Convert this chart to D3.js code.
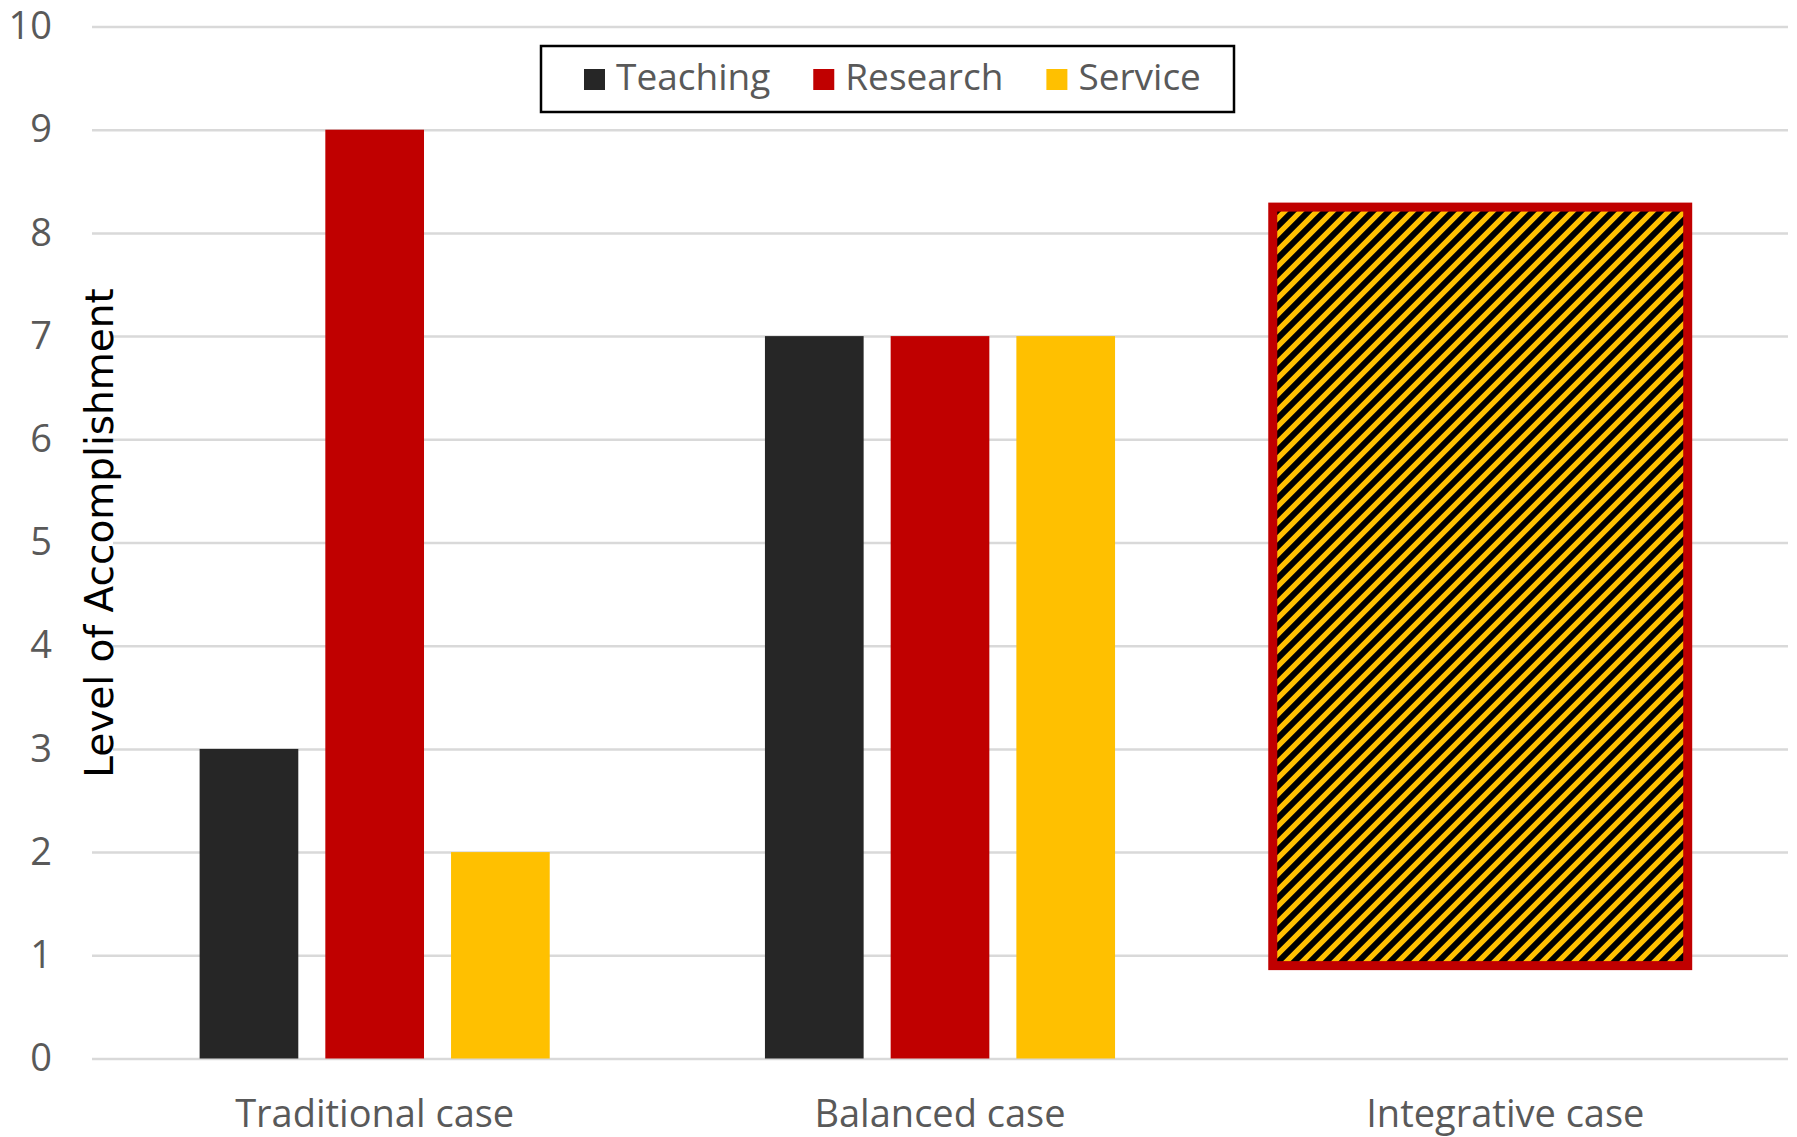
<!DOCTYPE html>
<html>
<head>
    <meta charset="utf-8">
    <title>Level of Accomplishment</title>
    <script src="https://d3js.org/d3.v7.min.js"></script>
    <style>
        body { margin: 0; padding: 0; background: #fff; overflow: hidden; }
        text { font-family: "Open Sans", Lato, sans-serif; }
    </style>
</head>
<body>
    <script>
        // data
        var categories = ["Traditional case", "Balanced case", "Integrative case"];
        var seriesNames = ["Teaching", "Research", "Service"];
        var seriesColors = ["#262626", "#C00000", "#FFC000"];
        var teaching = [3, 7, null];
        var research = [9, 7, null];
        var service = [2, 7, null];
        var integrativeRange = [0.9, 8.25];   // hatched box, low .. high
        var yTicks = [0, 1, 2, 3, 4, 5, 6, 7, 8, 9, 10];

        var width = 1797, height = 1137;
        var plotLeft = 92, plotRight = 1788, plotTop = 26.5, plotBottom = 1058.5;
        var grey = "#595959";

        var svg = d3.select("body").append("svg")
            .attr("width", width)
            .attr("height", height);

        var x = d3.scaleBand().domain(categories).range([plotLeft, plotRight]);
        var xs = d3.scaleBand().domain(seriesNames).range([0, x.bandwidth()])
            .paddingInner(0.215).paddingOuter(0.856);
        var y = d3.scaleLinear().domain([0, 10]).range([plotBottom, plotTop]);

        // hatch pattern for the integrative box
        var defs = svg.append("defs");
        var pat = defs.append("pattern")
            .attr("id", "hatch")
            .attr("patternUnits", "userSpaceOnUse")
            .attr("width", 16).attr("height", 16);
        pat.append("rect").attr("width", 16).attr("height", 16).attr("fill", "#FFC000");
        pat.append("path")
            .attr("d", "M-4,4 L4,-4 M0,16 L16,0 M12,20 L20,12")
            .attr("stroke", "#000").attr("stroke-width", 6);

        // gridlines
        svg.append("g")
            .attr("transform", "translate(" + plotLeft + ",0)")
            .call(d3.axisLeft(y).tickValues(yTicks).tickSize(-(plotRight - plotLeft)).tickFormat(""))
            .call(g => g.select(".domain").remove())
            .call(g => g.selectAll("line").attr("stroke", "#D9D9D9").attr("stroke-width", 2.5));

        // y tick labels
        svg.append("g")
            .attr("transform", "translate(52,0)")
            .call(d3.axisLeft(y).tickValues(yTicks).tickSize(0).tickPadding(0))
            .call(g => g.select(".domain").remove())
            .call(g => g.selectAll("text")
                .attr("fill", grey)
                .style("font-size", "38px")
                .style("font-family", "'Open Sans', Lato, sans-serif"));

        // x labels
        svg.append("g")
            .attr("transform", "translate(0," + plotBottom + ")")
            .call(d3.axisBottom(x).tickSize(0).tickPadding(42))
            .call(g => g.select(".domain").remove())
            .call(g => g.selectAll("text")
                .attr("fill", grey)
                .style("font-size", "38px")
                .style("font-family", "'Open Sans', Lato, sans-serif"));

        // y title with a white box under it
        var titleG = svg.append("g").attr("transform", "translate(113,533) rotate(-90)");
        var bg = titleG.append("rect").attr("fill", "#fff");
        var title = titleG.append("text")
            .attr("text-anchor", "middle")
            .attr("fill", "#000")
            .style("font-family", "'DejaVu Sans', sans-serif")
            .style("font-size", "39px")
            .text("Level of Accomplishment");
        var bb = title.node().getBBox();
        bg.attr("x", bb.x).attr("y", bb.y).attr("width", bb.width).attr("height", -bb.y);

        // bars
        var seriesData = [teaching, research, service];
        seriesNames.forEach((s, si) => {
            svg.append("g").selectAll("rect")
                .data(categories.map((c, ci) => ({ c: c, v: seriesData[si][ci] })).filter(d => d.v != null))
                .join("rect")
                .attr("x", d => x(d.c) + xs(s))
                .attr("y", d => y(d.v))
                .attr("width", xs.bandwidth())
                .attr("height", d => y(0) - y(d.v))
                .attr("fill", seriesColors[si]);
        });

        // integrative box (sits a little left of its band centre, as in the original)
        var cInt = categories[2];
        svg.append("rect")
            .attr("x", x(cInt) + x.bandwidth() * 0.0886)
            .attr("y", y(integrativeRange[1]))
            .attr("width", x.bandwidth() * 0.734)
            .attr("height", y(integrativeRange[0]) - y(integrativeRange[1]))
            .attr("fill", "url(#hatch)")
            .attr("stroke", "#C00000")
            .attr("stroke-width", 9);

        // legend
        var legend = svg.append("g");
        legend.append("rect")
            .attr("x", 541).attr("y", 46)
            .attr("width", 693).attr("height", 66)
            .attr("fill", "#fff")
            .attr("stroke", "#000")
            .attr("stroke-width", 2.5);
        var lx = 584;
        seriesNames.forEach((s, i) => {
            legend.append("rect")
                .attr("x", lx).attr("y", 69)
                .attr("width", 21).attr("height", 21)
                .attr("fill", seriesColors[i]);
            var t = legend.append("text")
                .attr("x", lx + 32).attr("y", 90)
                .attr("fill", grey)
                .style("font-size", "37px")
                .text(s);
            lx += 32 + t.node().getComputedTextLength() + 43;
        });
    </script>
</body>
</html>
